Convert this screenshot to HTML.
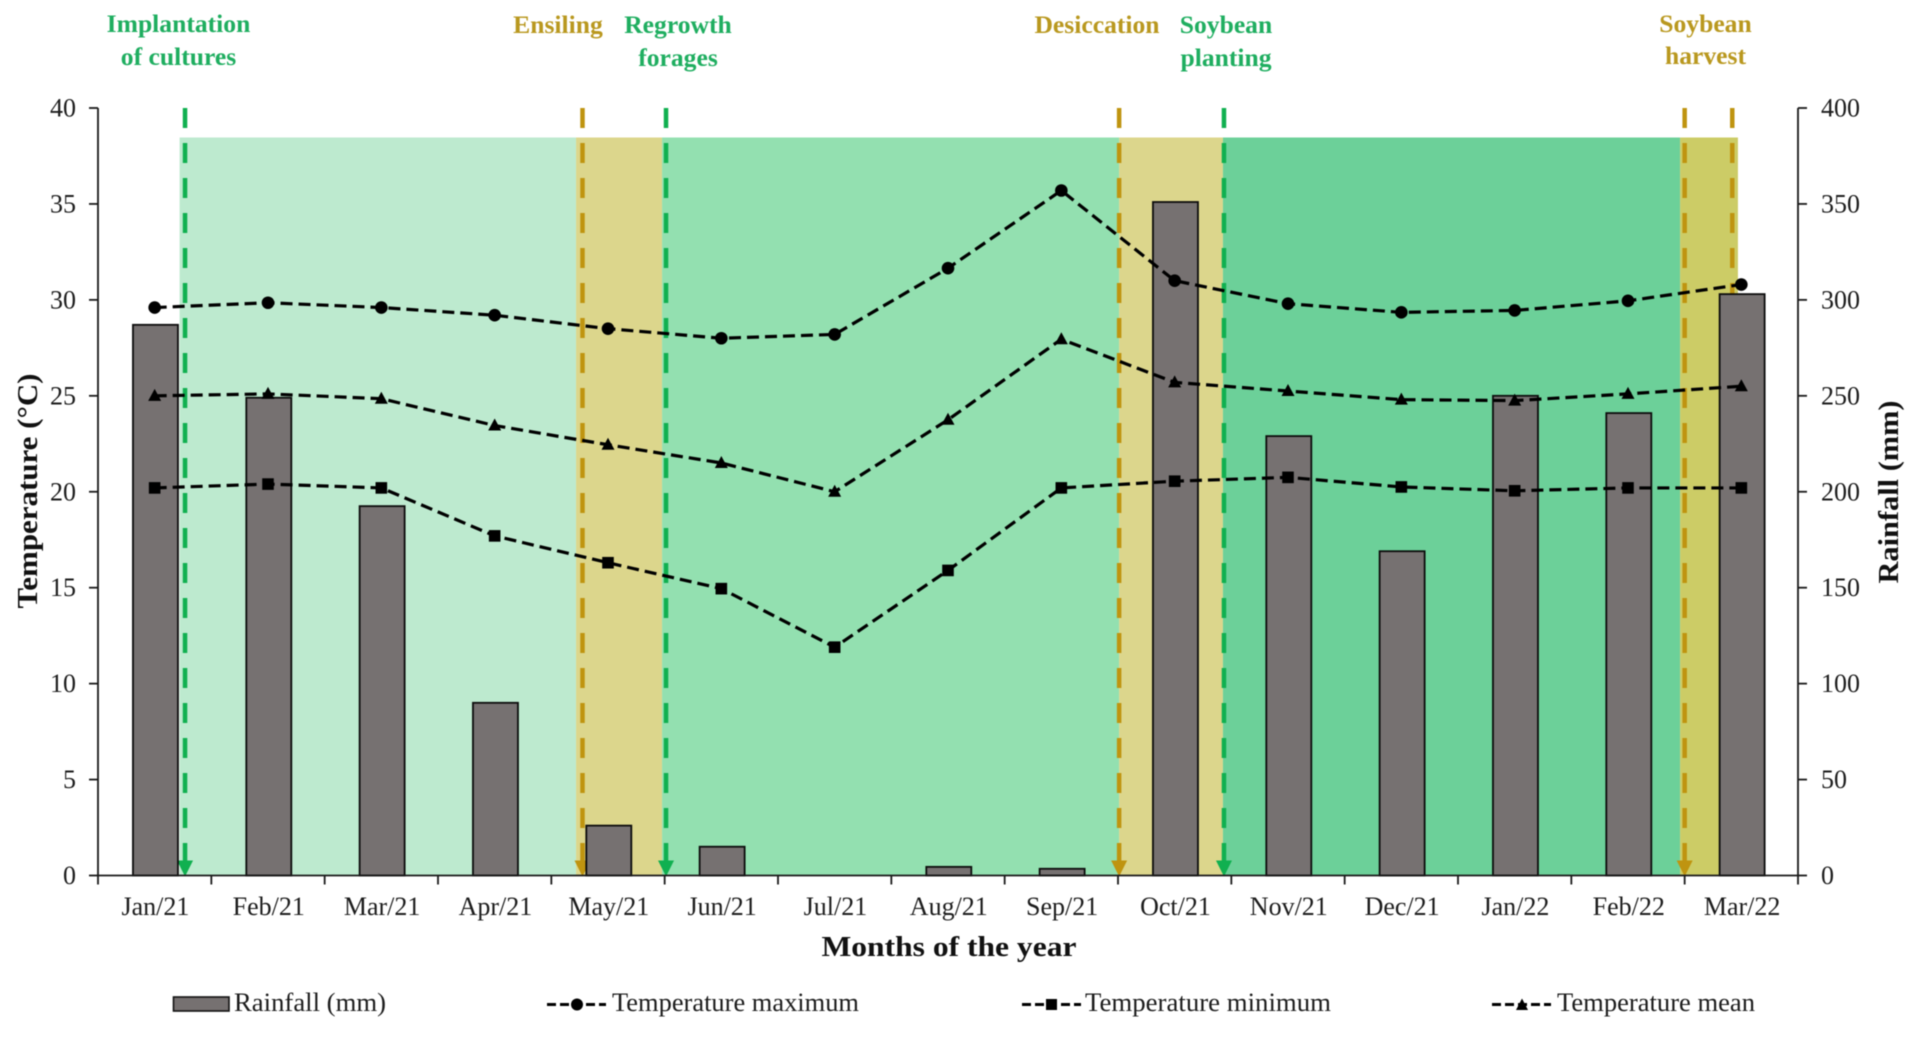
<!DOCTYPE html>
<html lang="en">
<head>
<meta charset="utf-8">
<title>Temperature and rainfall by month</title>
<style>
html,body{margin:0;padding:0;background:#fff;width:1917px;height:1037px;overflow:hidden}
svg{display:block;filter:blur(.5px)}
text{font-family:"Liberation Serif",serif;fill:#1c1c1c}
.head{font-weight:700;font-size:25.6px;text-anchor:middle}
.g{fill:#1fae60}
.t{fill:#b9981f}
.title{font-weight:700;font-size:29px;fill:#111}
.tick{font-size:26px}
.leg{font-size:26px}
</style>
</head>
<body>
<svg id="chart" xmlns="http://www.w3.org/2000/svg" width="1917" height="1037" viewBox="0 0 1917 1037">
  <g id="phases"></g>
  <g id="events"></g>
  <g id="bars"></g>
  <g id="axes"></g>
  <g id="lines"></g>

  <g>
    <text class="head g" x="178.5" y="32">Implantation</text>
    <text class="head g" x="178.5" y="65">of cultures</text>
    <text class="head t" x="558" y="33">Ensiling</text>
    <text class="head g" x="678" y="33">Regrowth</text>
    <text class="head g" x="678" y="66">forages</text>
    <text class="head t" x="1097" y="33">Desiccation</text>
    <text class="head g" x="1226" y="33">Soybean</text>
    <text class="head g" x="1226" y="66">planting</text>
    <text class="head t" x="1705.5" y="32">Soybean</text>
    <text class="head t" x="1705.5" y="64">harvest</text>
  </g>

  <text class="title" transform="translate(37 491) rotate(-90)" text-anchor="middle" textLength="235" lengthAdjust="spacingAndGlyphs">Temperature (°C)</text>
  <text class="title" transform="translate(1898 492) rotate(-90)" text-anchor="middle" textLength="183" lengthAdjust="spacingAndGlyphs">Rainfall (mm)</text>
  <text class="title" x="949" y="956" text-anchor="middle" textLength="255" lengthAdjust="spacingAndGlyphs">Months of the year</text>

  <g>
    <g>
      <rect x="173.5" y="997" width="55.5" height="14" fill="#767171" stroke="#111" stroke-width="1.6"/>
      <text class="leg" x="234" y="1011" textLength="152" lengthAdjust="spacingAndGlyphs">Rainfall (mm)</text>
    </g>
    <g>
      <line x1="547" x2="606" y1="1004.5" y2="1004.5" stroke="#000" stroke-width="3" stroke-dasharray="9 4"/>
      <circle cx="577" cy="1004.5" r="6" fill="#000"/>
      <text class="leg" x="612" y="1011" textLength="247" lengthAdjust="spacingAndGlyphs">Temperature maximum</text>
    </g>
    <g>
      <line x1="1022" x2="1081" y1="1004.5" y2="1004.5" stroke="#000" stroke-width="3" stroke-dasharray="9 4"/>
      <rect x="1046" y="999" width="11" height="11" fill="#000"/>
      <text class="leg" x="1085" y="1011" textLength="246" lengthAdjust="spacingAndGlyphs">Temperature minimum</text>
    </g>
    <g>
      <line x1="1492" x2="1551" y1="1004.5" y2="1004.5" stroke="#000" stroke-width="3" stroke-dasharray="9 4"/>
      <polygon points="1522,998.5 1528,1010 1516,1010" fill="#000"/>
      <text class="leg" x="1557" y="1011" textLength="198" lengthAdjust="spacingAndGlyphs">Temperature mean</text>
    </g>
  </g>
</svg>

<script>
const months = ['Jan/21','Feb/21','Mar/21','Apr/21','May/21','Jun/21','Jul/21','Aug/21','Sep/21','Oct/21','Nov/21','Dec/21','Jan/22','Feb/22','Mar/22'];
const rainfall = [287,249,192.5,90,26,15,0,4.5,3.5,351,229,169,250,241,303];
const tempMax = [29.6,29.85,29.6,29.2,28.5,28,28.2,31.65,35.7,31,29.8,29.35,29.45,29.95,30.8];
const tempMean = [25,25.1,24.85,23.45,22.45,21.5,20,23.75,27.95,25.7,25.25,24.8,24.75,25.1,25.5];
const tempMin = [20.2,20.4,20.2,17.7,16.3,14.95,11.9,15.9,20.2,20.55,20.75,20.25,20.05,20.2,20.2];
const tempTicks = [0,5,10,15,20,25,30,35,40];
const rainTicks = [0,50,100,150,200,250,300,350,400];
/* Phase and event timing, in months since the start of Jan/21 */
const phaseStarts = [0.72,4.218,4.977,9.01,9.926,13.96];
const phaseEnds = [4.218,4.977,9.01,9.926,13.96,14.47];
const phaseNames = ['implantation','ensiling','regrowth','desiccation','soybean','harvest'];
const eventTimes = [0.768,4.275,5.012,9.01,9.935,14.0,14.42];
const eventKinds = ['green','tan','green','tan','green','tan','tan'];

const plotLeft = 98, plotRight = 1798, plotBottom = 875.5, plotTop = 108, bandTop = 137.5;
const NS = 'http://www.w3.org/2000/svg';
const barWidth = 45, barOffset = 0.8;
const bandFills = ['#bdeacf','#dcd68c','#93e0b0','#dcd68c','#6cd099','#cccc66'];
const kindColor = {green:'#10b050', tan:'#bf9410'};

const xTime = t => plotLeft + t * (plotRight - plotLeft) / months.length;
const xMonth = i => xTime(i + 0.5);
const yTemp = v => plotBottom - v * (plotBottom - plotTop) / 40;
const yRain = v => plotBottom - v * (plotBottom - plotTop) / 400;

function make(tag, parent, attrs, text) {
  const el = document.createElementNS(NS, tag);
  for (const k in attrs) el.setAttribute(k, attrs[k]);
  if (text !== undefined) el.textContent = text;
  parent.appendChild(el);
  return el;
}

const phasesG = document.getElementById('phases');
phaseStarts.forEach((s, i) => {
  const el = make('rect', phasesG, {x: xTime(s), y: bandTop, width: xTime(phaseEnds[i]) - xTime(s), height: plotBottom - bandTop, fill: bandFills[i]});
  
  
});

const eventsG = document.getElementById('events');
eventTimes.forEach((t, i) => {
  const x = xTime(t), c = kindColor[eventKinds[i]];
  const ln = make('line', eventsG, {x1: x, x2: x, y1: plotTop, y2: plotBottom - 12, stroke: c, 'stroke-width': 4.5, 'stroke-dasharray': '20 15'});
  
  
  const ar = make('polygon', eventsG, {points: (x - 8) + ',' + (plotBottom - 15) + ' ' + (x + 8) + ',' + (plotBottom - 15) + ' ' + x + ',' + (plotBottom + 1), fill: c});
  
  
});

const barsG = document.getElementById('bars');
rainfall.forEach((v, i) => {
  if (v <= 0) return;
  const r = make('rect', barsG, {x: xMonth(i) + barOffset - barWidth / 2, y: yRain(v), width: barWidth, height: plotBottom - yRain(v), fill: '#767171', stroke: '#0c0c0c', 'stroke-width': 1.8});
  
  
});

const axesG = document.getElementById('axes');
const axisStyle = {stroke: '#1a1a1a', 'stroke-width': 1.8};
function axisLine(x1, y1, x2, y2, name) {
  const l = make('line', axesG, Object.assign({x1, y1, x2, y2}, axisStyle));
  
  
}
axisLine(plotLeft, plotTop, plotLeft, plotBottom, 'y-axis-left');
axisLine(plotRight, plotTop, plotRight, plotBottom, 'y-axis-right');
axisLine(plotLeft, plotBottom, plotRight, plotBottom, 'x-axis');
tempTicks.forEach(v => {
  const y = yTemp(v);
  axisLine(plotLeft - 9, y, plotLeft, y, 'y-tick-left');
  const t = make('text', axesG, {class: 'tick', x: 76, y: y + 8.5, 'text-anchor': 'end'}, String(v));
  
  
});
rainTicks.forEach(v => {
  const y = yRain(v);
  axisLine(plotRight, y, plotRight + 9, y, 'y-tick-right');
  const t = make('text', axesG, {class: 'tick', x: 1821, y: y + 8.5}, String(v));
  
  
});
for (let i = 0; i <= months.length; i++) {
  axisLine(xTime(i), plotBottom, xTime(i), plotBottom + 9, 'x-tick');
}
months.forEach((m, i) => {
  const t = make('text', axesG, {class: 'tick', x: xMonth(i) + 0.8, y: 915, 'text-anchor': 'middle'}, m);
  
  
});

const linesG = document.getElementById('lines');
function drawSeries(values, name, marker) {
  const pts = values.map((v, i) => xMonth(i) + ',' + yTemp(v)).join(' ');
  const pl = make('polyline', linesG, {points: pts, fill: 'none', stroke: '#000', 'stroke-width': 3.2, 'stroke-dasharray': '12 6'});
  
  
  values.forEach((v, i) => {
    const x = xMonth(i), y = yTemp(v);
    let m;
    if (marker === 'circle') m = make('circle', linesG, {cx: x, cy: y, r: 6.3, fill: '#000'});
    if (marker === 'square') m = make('rect', linesG, {x: x - 5.8, y: y - 5.8, width: 11.6, height: 11.6, fill: '#000'});
    if (marker === 'triangle') m = make('polygon', linesG, {points: x + ',' + (y - 7) + ' ' + (x + 6.5) + ',' + (y + 5) + ' ' + (x - 6.5) + ',' + (y + 5), fill: '#000'});
    
    
  });
}
drawSeries(tempMax, 'temperature-maximum', 'circle');
drawSeries(tempMin, 'temperature-minimum', 'square');
drawSeries(tempMean, 'temperature-mean', 'triangle');
</script>
</body>
</html>
